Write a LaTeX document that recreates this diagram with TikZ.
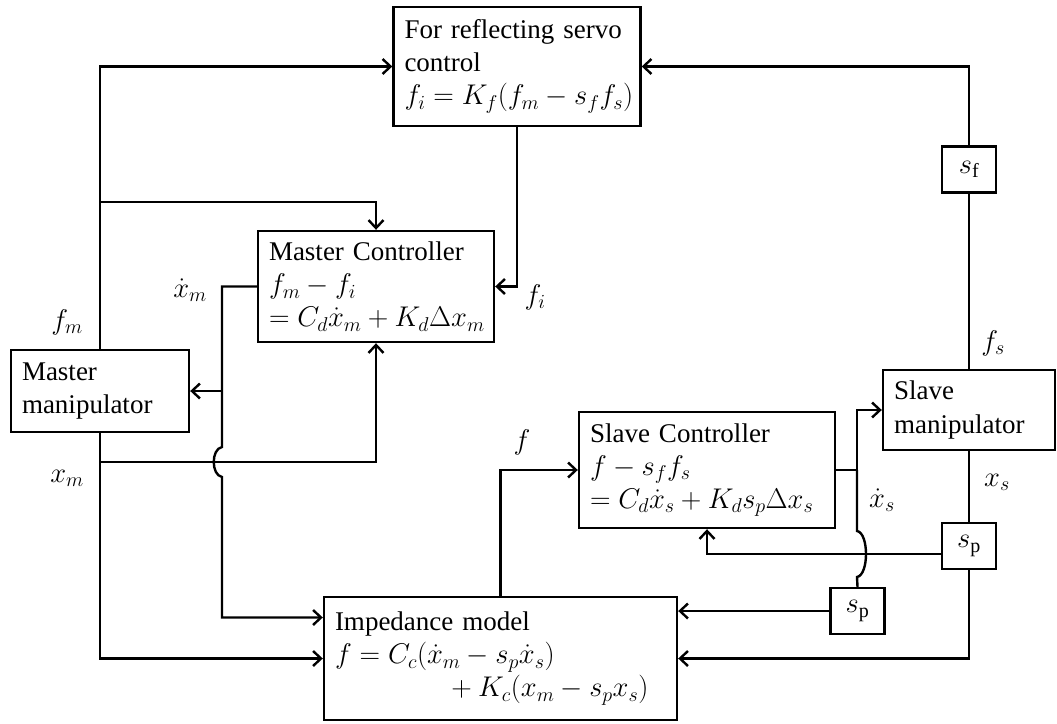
\documentclass[tikz,border=0pt]{standalone}
\usepackage{fix-cm}
\usepackage{fontspec}
\setmainfont{Liberation Serif}
\DeclareMathSizes{27}{28.5}{20}{15}
\usetikzlibrary{arrows.meta,calc}

\begin{document}
\begin{tikzpicture}[
    x=1pt, y=-1pt,
    line width=2.4pt,
    >={Straight Barb[length=8pt,width=15pt]},
    every node/.style={font=\fontsize{27}{33}\selectfont},
    block/.style={draw, align=left, inner xsep=11pt, inner ysep=4pt},
    gain/.style={draw, minimum width=54pt, minimum height=46pt, inner sep=0pt},
    sig/.style={inner sep=1pt}
  ]
  \useasboundingbox (0,0) rectangle (1057,723);

  \node[block, text width=225pt, minimum height=119pt] (servo) at (517,66.5) {For reflecting servo\\ control\\ \mbox{$f_i = K_f\bigl(f_m - s_f f_s\bigr)$}};
  \node[block, text width=214pt, minimum height=111pt] (mctrl) at (376,286.5) {Master Controller\\ \mbox{$f_m - f_i$}\\ \mbox{$= C_d\dot{x}_m + K_d\Delta x_m$}};
  \node[block, text width=156pt, minimum height=82pt] (mmanip) at (100,391) {Master\\ manipulator};
  \node[block, text width=234pt, minimum height=116pt] (sctrl) at (707,470) {Slave Controller\\ \mbox{$f - s_f f_s$}\\ \mbox{$= C_d\dot{x}_s + K_d s_p\Delta x_s$}};
  \node[block, text width=150pt, minimum height=80pt] (smanip) at (969,410) {Slave\\ manipulator};
  \node[block, text width=331pt, minimum height=123pt] (imp) at (500.5,658.5) {Impedance model\\ \mbox{$f = C_c\bigl(\dot{x}_m - s_p\dot{x}_s\bigr)$}\\ \hspace*{110pt}\mbox{${}+ K_c\bigl(x_m - s_p x_s\bigr)$}};
  \node[gain] (sf) at (969,169.5) {$s_\mathrm{f}$};
  \node[gain] (spr) at (969,546) {$s_\mathrm{p}$};
  \node[gain] (spl) at (857.5,611) {$s_\mathrm{p}$};

  % signal names
  \node[sig] (fm) at (67,322) {$f_m$};
  \node[sig] (xm) at (67,478) {$x_m$};
  \node[sig] (dxm) at (190,290) {$\dot{x}_m$};
  \node[sig] (fi) at (535,297) {$f_i$};
  \node[sig] (fsig) at (522,442) {$f$};
  \node[sig] (fs) at (993,343) {$f_s$};
  \node[sig] (xs) at (997,482) {$x_s$};
  \node[sig] (dxs) at (882,500) {$\dot{x}_s$};

  \coordinate (fmtap) at (100,202);
  \coordinate (xmtap) at (100,462);
  \coordinate (xmdot) at (222,286.5);
  \coordinate (xmbump) at (222,447);
  \coordinate (xsdot) at (857,470);
  \coordinate (xsbump) at (857,531);

  % master side
  \draw[->] (mmanip.north) |- (servo.west);
  \draw[->] (fmtap) -| (mctrl.north);
  \draw[->] (mmanip.south) |- (imp.west);
  \draw[->] (xmtap) -| (mctrl.south);
  \draw[->] (mctrl.west) -| (xmbump) .. controls (211,449) and (211,475) .. (222,477) |- ([yshift=41pt]imp.west);
  \draw[->] (xmdot |- mmanip.east) -- (mmanip.east);
  \draw[->] (servo.south) |- (mctrl.east);

  % slave side
  \draw (smanip.north) -- (sf.south);
  \draw[->] (sf.north) |- (servo.east);
  \draw (smanip.south) -- (spr.north);
  \draw[->] (spr.south) |- (imp.east);
  \draw[->] ([yshift=-8pt]spr.west) -| (sctrl.south);
  \draw (sctrl.east) -- (xsdot);
  \draw[->] (xsdot) |- (smanip.west);
  \draw (xsdot) -- (xsbump) .. controls (869,533) and (869,575) .. (857,577) -- (spl.north);
  \draw[->] (spl.west) -- (spl.west -| imp.east);
  \draw[->] (imp.north) |- (sctrl.west);
\end{tikzpicture}
\end{document}
